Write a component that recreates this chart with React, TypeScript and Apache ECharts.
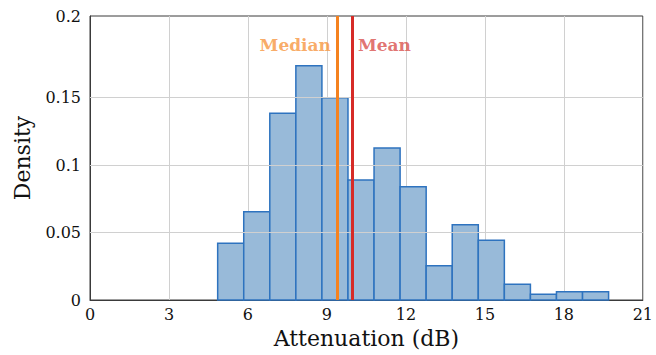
import React, { useEffect, useRef } from "react";
import * as echarts from "echarts";

// Histogram bin edges (dB) and densities
const binEdges = [4.85, 5.84, 6.83, 7.82, 8.81, 9.8, 10.79, 11.78, 12.77, 13.76, 14.75, 15.74, 16.73, 17.72, 18.71, 19.7];
const densities = [0.042, 0.0654, 0.1383, 0.1736, 0.1499, 0.0889, 0.1126, 0.0839, 0.0254, 0.0558, 0.0442, 0.0116, 0.0042, 0.0062, 0.0062];

const medianValue = 9.38;
const meanValue = 9.95;
const statLabelY = 0.189;

const xMin = 0;
const xMax = 21;
const xInterval = 3;

const yGridValues = [0.05, 0.1, 0.15];
const yLabelValues = [0, 0.05, 0.1, 0.15, 0.2104];
const yMax = 0.2104;
const yTopLabel = "0.2";

const FONT = "DejaVu Serif";

export default function App() {
  const ref = useRef<HTMLDivElement>(null);

  useEffect(() => {
    if (!ref.current) return;
    const chart = echarts.init(ref.current, undefined, { renderer: "svg" });

    const histData = densities.map((d, i) => [binEdges[i], binEdges[i + 1], d]);

    const option: any = {
      animation: false,
      backgroundColor: "#ffffff",
      grid: {
        left: 90,
        right: 13,
        top: 16,
        bottom: 55,
        show: true,
        borderColor: "#3a3a3a",
        borderWidth: 1,
        backgroundColor: "transparent",
      },
      xAxis: {
        type: "value",
        min: xMin,
        max: xMax,
        interval: xInterval,
        name: "Attenuation (dB)",
        nameLocation: "middle",
        nameGap: 27,
        nameTextStyle: { fontFamily: FONT, fontSize: 22, color: "#111" },
        axisLine: { show: true, lineStyle: { color: "#3a3a3a", width: 1 } },
        axisTick: { show: false },
        axisLabel: { fontFamily: FONT, fontSize: 16, color: "#111", margin: 6 },
        splitLine: { show: true, lineStyle: { color: "#d0d0d0", width: 1 } },
      },
      yAxis: {
        type: "value",
        min: 0,
        max: yMax,
        name: "Density",
        nameLocation: "middle",
        nameRotate: 90,
        nameGap: 57,
        nameTextStyle: { fontFamily: FONT, fontSize: 22, color: "#111" },
        axisLine: { show: true, lineStyle: { color: "#3a3a3a", width: 1 } },
        axisTick: { show: false, customValues: yLabelValues },
        axisLabel: {
          fontFamily: FONT,
          fontSize: 16,
          color: "#111",
          margin: 9,
          customValues: yLabelValues,
          formatter: (v: number) => (v >= yMax - 1e-9 ? yTopLabel : String(+v.toFixed(2))),
        },
        splitLine: { show: false },
      },
      series: [
        {
          type: "line",
          data: [],
          z: 1,
          silent: true,
          markLine: {
            silent: true,
            symbol: "none",
            label: { show: false },
            lineStyle: { color: "#d0d0d0", width: 1, type: "solid" },
            data: yGridValues.map((v) => ({ yAxis: v })),
          },
        },
        {
          type: "custom",
          z: 3,
          data: histData,
          encode: { x: [0, 1], y: 2 },
          renderItem: (params: any, api: any) => {
            const p0 = api.coord([api.value(0), api.value(2)]);
            const p1 = api.coord([api.value(1), 0]);
            return {
              type: "rect",
              shape: { x: p0[0], y: p0[1], width: p1[0] - p0[0], height: p1[1] - p0[1] },
              style: { fill: "#98bad9", stroke: "#2e73bf", lineWidth: 1.5 },
            };
          },
        },
        {
          type: "line",
          data: [],
          z: 5,
          silent: true,
          markLine: {
            silent: true,
            symbol: "none",
            label: { show: false },
            data: [
              { xAxis: medianValue, lineStyle: { color: "#f5821f", width: 3, type: "solid" } },
              { xAxis: meanValue, lineStyle: { color: "#d62b27", width: 3, type: "solid" } },
            ],
          },
        },
        {
          type: "scatter",
          z: 6,
          symbolSize: 0,
          silent: true,
          data: [
            { value: [medianValue, statLabelY], label: { position: "left", formatter: "Median", color: "#f79640" } },
            { value: [meanValue, statLabelY], label: { position: "right", formatter: "Mean", color: "#d9504c" } },
          ],
          label: {
            show: true,
            fontFamily: FONT,
            fontSize: 17,
            fontWeight: "bold",
            distance: 6,
          },
        },
      ],
    };

    chart.setOption(option);
    return () => chart.dispose();
  }, []);

  return (
    <div
      ref={ref}
      style={{ position: "fixed", left: 0, top: 0, width: 656, height: 355, background: "#fff" }}
    />
  );
}
